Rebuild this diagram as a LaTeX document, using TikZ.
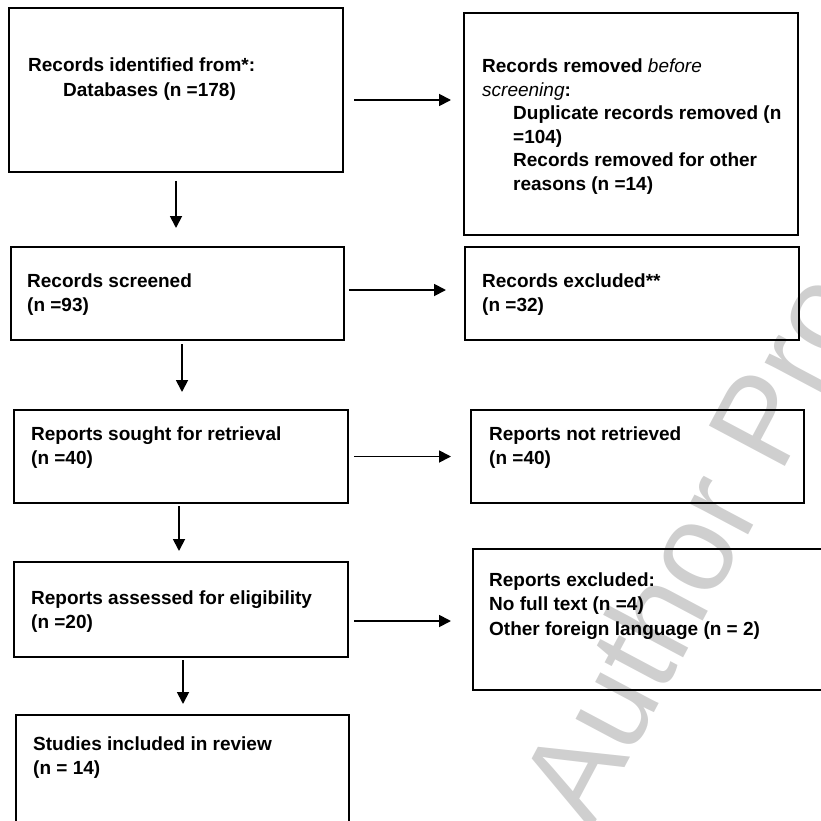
\documentclass[tikz,border=0pt]{standalone}
\usepackage{fontspec}
\setmainfont{Liberation Sans}
\usetikzlibrary{positioning,arrows.meta}

\tikzset{
  box/.style={draw, line width=2pt, minimum width=334pt, inner sep=0pt},
  txt/.style={align=left, inner sep=0pt, anchor=base west,
    font=\fontsize{19}{24.5}\selectfont\bfseries},
  flow/.style={line width=1.8pt, -{Triangle[length=12pt,width=12pt]}},
}

\begin{document}
\begin{tikzpicture}[x=1pt,y=-1pt]
\useasboundingbox (0,0) rectangle (821,821);

% watermark
\node[rotate=62, text=black!19, anchor=base west, inner sep=0pt,
  font=\fontsize{125}{125}\selectfont] (proof) at (591,831) {Author Proof};

% identification
\node[box, minimum height=164pt] (ident) at (176,90) {};
\node[txt] (identtxt) at (28,96.5) {Records identified from*:\\\hspace*{35pt}Databases (n =178)};
\node[box, minimum height=222pt] (removed) at (631,124) {};
\node[txt, font=\fontsize{19}{23.4}\selectfont\bfseries] (removedtxt) at (482,190)
  {Records removed {\mdseries\itshape before}\\{\mdseries\itshape screening}:\\
   \hspace*{31pt}Duplicate records removed (n\\\hspace*{31pt}=104)\\
   \hspace*{31pt}Records removed for other\\\hspace*{31pt}reasons (n =14)};

% screening
\node[box, minimum width=333pt, minimum height=93pt] (screened) at (177.5,293.5) {};
\node[txt] (screenedtxt) at (27,311.5) {Records screened\\(n =93)};
\node[box, minimum height=93pt] (excluded) at (632,293.5) {};
\node[txt] (excludedtxt) at (482,311.5) {Records excluded**\\(n =32)};

\node[box, minimum height=93pt] (sought) at (181,456.5) {};
\node[txt] (soughttxt) at (31,464.5) {Reports sought for retrieval\\(n =40)};
\node[box, minimum width=333pt, minimum height=93pt] (notret) at (637.5,456.5) {};
\node[txt] (notrettxt) at (489,464.5) {Reports not retrieved\\(n =40)};

\node[box, minimum height=95pt] (assessed) at (181,609.5) {};
\node[txt] (assessedtxt) at (31,628.5) {Reports assessed for eligibility\\(n =20)};
\node[box, minimum width=362pt, minimum height=141pt] (repexcl) at (654,619.5) {};
\node[txt] (repexcltxt) at (489,635) {Reports excluded:\\No full text (n =4)\\Other foreign language (n = 2)};

% included
\node[box, minimum width=333pt, minimum height=120pt] (included) at (182.5,775) {};
\node[txt] (includedtxt) at (33,774.5) {Studies included in review\\(n = 14)};

% arrows
\draw[flow] ([xshift=10pt,yshift=-10pt]ident.east) -- ([xshift=-12pt,yshift=-10pt]ident.east -| removed.west);
\draw[flow] ([xshift=4pt,yshift=3.5pt]screened.east) -- ([xshift=-18pt,yshift=3.5pt]screened.east -| excluded.west);
\draw[flow] ([xshift=5pt]sought.east) -- ([xshift=-19pt]sought.east -| notret.west);
\draw[flow] ([xshift=5pt,yshift=-11.5pt]assessed.east) -- ([xshift=-21pt,yshift=-11.5pt]assessed.east -| repexcl.west);

\draw[flow] ([yshift=-8pt]ident.south) -- ([yshift=18pt]ident.south |- screened.north);
\draw[flow] ([xshift=4.5pt,yshift=-3pt]screened.south) -- ([xshift=4.5pt,yshift=17pt]screened.south |- sought.north);
\draw[flow] ([xshift=-2pt,yshift=-2pt]sought.south) -- ([xshift=-2pt,yshift=10pt]sought.south |- assessed.north);
\draw[flow] ([xshift=2pt,yshift=-2pt]assessed.south) -- ([xshift=2pt,yshift=10pt]assessed.south |- included.north);
\end{tikzpicture}
\end{document}
